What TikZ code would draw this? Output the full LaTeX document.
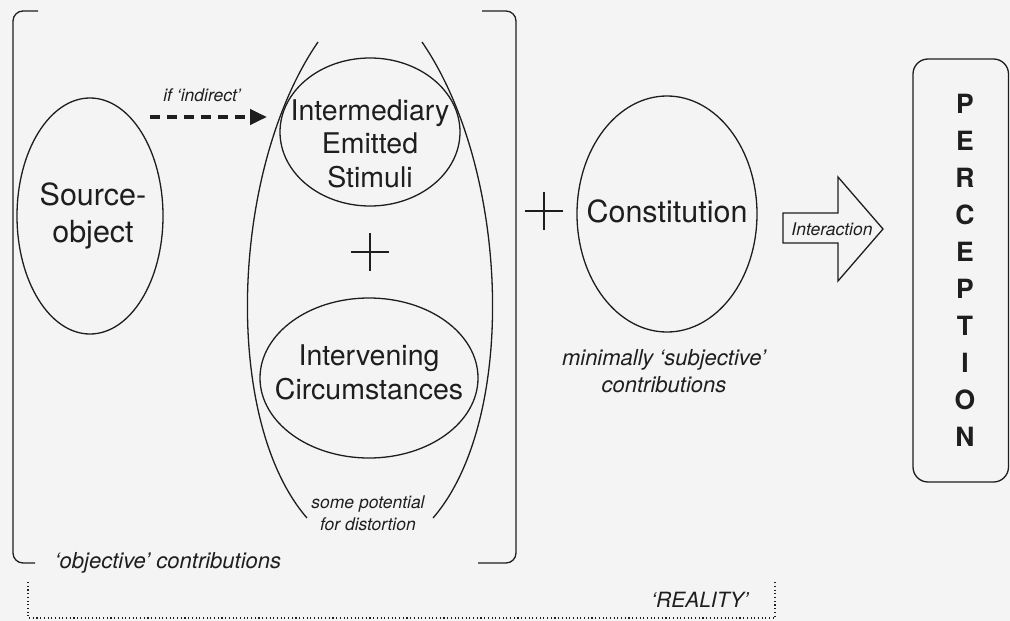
\documentclass[tikz,border=0pt]{standalone}
\usepackage{fontspec}
\setmainfont{TeX Gyre Heros}
\usetikzlibrary{shapes.geometric,arrows.meta}
\definecolor{ink}{HTML}{1E1E1E}
\definecolor{paper}{HTML}{F4F4F4}
\newcommand{\fs}[1]{\fontsize{#1}{#1}\selectfont}
\begin{document}
\begin{tikzpicture}[x=1pt,y=-1pt,
  line/.style={draw=ink,line width=1.3pt},
  oval/.style={ellipse,draw=ink,line width=1.3pt,inner sep=0pt},
  big/.style={anchor=base,text=ink,font=\fs{28.5}},
  small/.style={anchor=base,text=ink,font=\itshape\fs{22}},
  tiny/.style={anchor=base,text=ink,font=\itshape\fs{17.5}},
  letter/.style={anchor=base,text=ink,font=\bfseries\fs{26.5}},
  dotline/.style={draw=ink,line width=1.1pt,dash pattern=on 1.1pt off 2.6pt}]
\fill[paper] (0,0) rectangle (1010,621);
\useasboundingbox (0,0) rectangle (1010,621);

% brackets
\draw[line,rounded corners=10pt] (38,11) -- (13,11) -- (13,563) -- (35,563);
\draw[line,rounded corners=10pt] (482,11) -- (516,11) -- (516,563) -- (478,563);

% source object
\node[oval,minimum width=146pt,minimum height=236pt] (src) at (90,216) {};
\node[big,font=\fs{30.5}] (srcA) at (93,205) {Source-};
\node[big,font=\fs{30.5}] (srcB) at (93,242) {object};

% dashed arrow
\coordinate (dS) at (150,117);
\coordinate (dE) at (267,117);
\draw[draw=ink,line width=4pt,dash pattern=on 10pt off 7pt,-{Triangle[length=17pt,width=15pt]}] (dS) -- (dE);
\node[tiny] (ifind) at (202,101) {if ‘indirect’};

% vase
\draw[line] (318,42) .. controls (230,170) and (222,420) .. (307,518);
\draw[line] (422,42) .. controls (510,170) and (518,420) .. (433,518);

% intermediary
\node[oval,minimum width=180pt,minimum height=148pt] (ies) at (370,132) {};
\node[big] (iesA) at (370,120) {Intermediary};
\node[big] (iesB) at (370,153.5) {Emitted};
\node[big] (iesC) at (370,187) {Stimuli};

% plus 1
\coordinate (p1) at (370,252);
\draw[line] ([xshift=-19pt]p1) -- ([xshift=19pt]p1);
\draw[line] ([yshift=-19pt]p1) -- ([yshift=19pt]p1);

% intervening
\node[oval,minimum width=218pt,minimum height=160pt] (ic) at (369,378) {};
\node[big] (icA) at (369,365) {Intervening};
\node[big] (icB) at (369,399) {Circumstances};

\node[tiny] (spA) at (368,508) {some potential};
\node[tiny] (spB) at (368,530) {for distortion};

\node[small] (obj) at (168,568) {‘objective’ contributions};

% plus 2
\coordinate (p2) at (544,211);
\draw[line] ([xshift=-19pt]p2) -- ([xshift=19pt]p2);
\draw[line] ([yshift=-19pt]p2) -- ([yshift=19pt]p2);

% constitution
\node[oval,minimum width=180pt,minimum height=236pt] (con) at (667,214) {};
\node[big,font=\fs{30.5}] (conT) at (667,222) {Constitution};
\node[small] (minA) at (664,365) {minimally ‘subjective’};
\node[small] (minB) at (664,392) {contributions};

% block arrow
\draw[line,fill=paper] (783,213) -- (838,213) -- (838,177) -- (883,229) -- (838,281) -- (838,243) -- (783,243) -- cycle;
\node[tiny] (inter) at (832,235) {Interaction};

% perception box
\draw[line,rounded corners=15pt] (913,59) rectangle (1008.5,482);
\foreach \l [count=\i from 0] in {P,E,R,C,E,P,T,I,O,N}
  \node[letter] (perc\i) at (965,113+37*\i) {\l};

% reality
\draw[dotline] (28,582) -- (28,618) -- (775,618) -- (775,582);
\node[small,font=\itshape\fs{21}] (real) at (700,607) {‘REALITY’};
\end{tikzpicture}
\end{document}
